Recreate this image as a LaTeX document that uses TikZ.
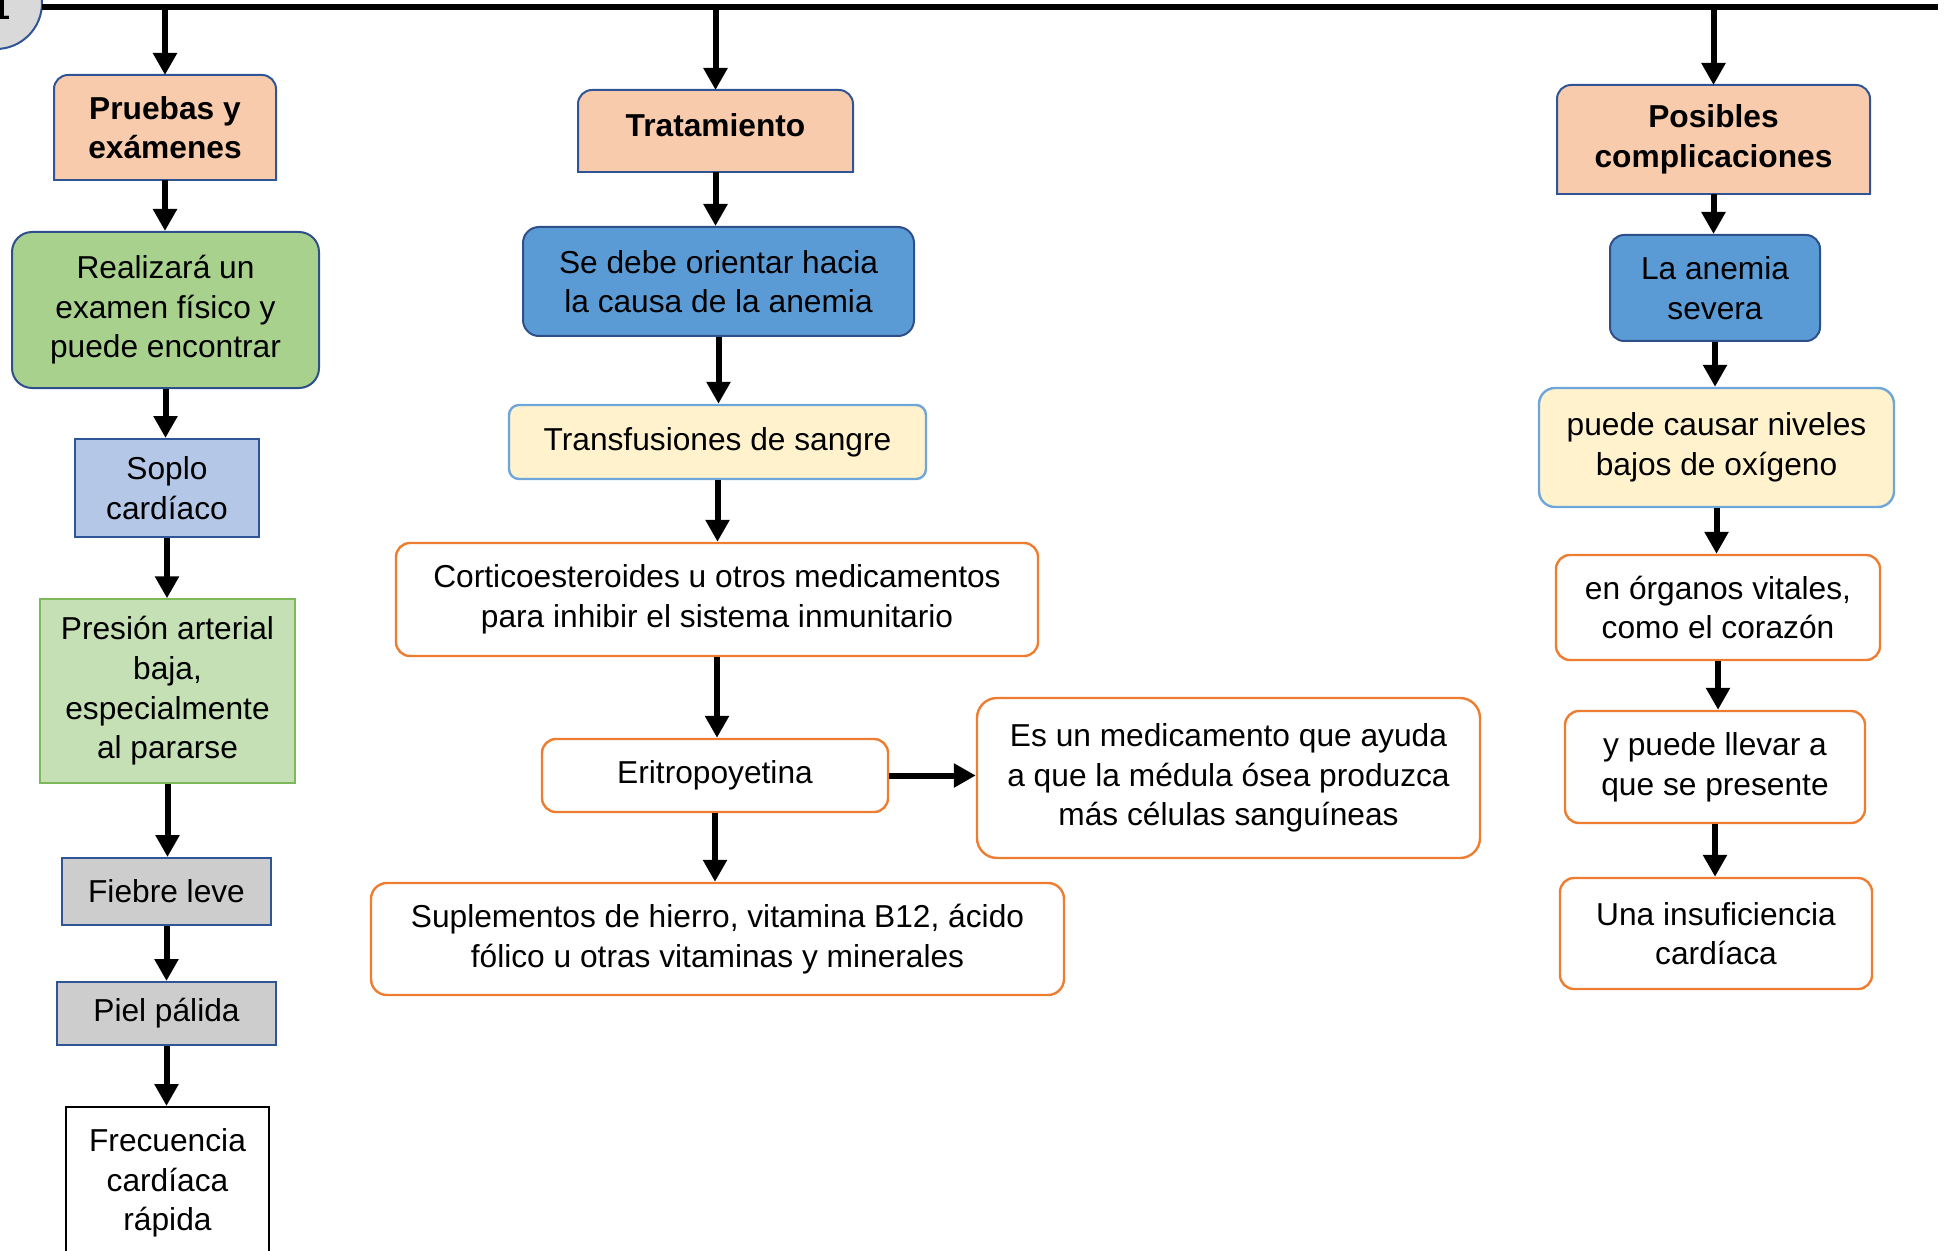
\documentclass[tikz,border=0pt]{standalone}
\usepackage{fontspec}
\setmainfont{Liberation Sans}
\usetikzlibrary{arrows.meta,backgrounds}
\definecolor{peach}{HTML}{F8CBAD}
\definecolor{hdrborder}{HTML}{2F5597}
\definecolor{greenfill}{HTML}{A9D18E}
\definecolor{lightblue}{HTML}{B4C7E7}
\definecolor{lightgreen}{HTML}{C5E0B4}
\definecolor{greenborder}{HTML}{7DB95A}
\definecolor{grayfill}{HTML}{CDCDCD}
\definecolor{bluefill}{HTML}{5B9BD5}
\definecolor{blueborder}{HTML}{2E4F8A}
\definecolor{yellowfill}{HTML}{FFF2CC}
\definecolor{skyborder}{HTML}{6FA6DA}
\definecolor{orangeb}{HTML}{ED7D31}
\definecolor{circlefill}{HTML}{D9D9D9}
\newcommand\hdrshape[1]{%
\begin{scope}[on background layer]
\path[fill=peach, draw=hdrborder, line width=1pt, rounded corners=7pt] (#1.south east) -- (#1.north east) -- (#1.north west) -- (#1.south west);
\draw[hdrborder, line width=1pt, line cap=rect] (#1.south west) -- (#1.south east);
\end{scope}}
\begin{document}
\begin{tikzpicture}[x=0.5pt,y=-0.5pt,
  every node/.style={font=\fontsize{15.85}{19.8}\selectfont, align=center, inner sep=0pt, line width=1pt},
  hdr/.style={font=\fontsize{15.85}{19.8}\selectfont\bfseries},
  sqbox/.style={draw=hdrborder},
  rbox/.style={draw=blueborder, rounded corners=#1},
  obox/.style={draw=orangeb, fill=white, line width=1.2pt, rounded corners=#1},
  ybox/.style={draw=skyborder, fill=yellowfill, line width=1.2pt, rounded corners=#1},
  arr/.style={line width=3pt, -{Triangle[width=11.5pt,length=11pt]}}
]
\useasboundingbox (0,0) rectangle (1952,1251);

% top bar and circle
\draw[hdrborder, fill=circlefill, line width=1pt] (-4,3) circle[radius=23pt];
\node[font=\fontsize{15.85}{19.8}\selectfont\bfseries, anchor=base east] (one) at (11,20) {1};
\coordinate (tl) at (42,7);
\coordinate (tr) at (1938,7);
\draw[line width=3pt] (tl) -- (tr);

% column 1
\node[hdr, minimum width=110pt, minimum height=51.5pt] (pru) at (165,127.5) {Pruebas y\\exámenes};
\hdrshape{pru}
\node[rbox=10pt, fill=greenfill, minimum width=153.5pt, minimum height=78pt] (rea) at (165.5,310) {Realizará un\\examen físico y\\puede encontrar};
\node[sqbox, fill=lightblue, minimum width=92pt, minimum height=49pt] (sop) at (167,488) {Soplo\\cardíaco};
\node[draw=greenborder, line width=0.7pt, fill=lightgreen, minimum width=127.5pt, minimum height=92pt] (pre) at (167.5,691) {Presión arterial\\baja,\\especialmente\\al pararse};
\node[sqbox, fill=grayfill, minimum width=104.5pt, minimum height=33.5pt] (fie) at (166.5,891.5) {Fiebre leve};
\node[sqbox, fill=grayfill, minimum width=109.5pt, minimum height=31.5pt] (pie) at (166.5,1013.5) {Piel pálida};
\node[draw=black, fill=white, minimum width=101.5pt, minimum height=76pt] (fre) at (167.5,1183) {Frecuencia\\cardíaca\\rápida};

% column 2
\node[hdr, minimum width=136.5pt, minimum height=40pt, text depth=6pt] (tra) at (715.5,131) {Tratamiento};
\hdrshape{tra}
\node[rbox=8pt, fill=bluefill, minimum width=195.5pt, minimum height=54.5pt] (sed) at (718.5,281.5) {Se debe orientar hacia\\la causa de la anemia};
\node[ybox=5pt, minimum width=208.5pt, minimum height=37pt] (trf) at (717.5,442) {Transfusiones de sangre};
\node[obox=7pt, minimum width=321pt, minimum height=56.5pt] (cor) at (717,599.5) {Corticoesteroides u otros medicamentos\\para inhibir el sistema inmunitario};
\node[obox=7pt, minimum width=173pt, minimum height=36.5pt] (eri) at (715,775.5) {Eritropoyetina};
\node[obox=10pt, minimum width=251.5pt, minimum height=80pt] (esm) at (1228.5,778) {Es un medicamento que ayuda\\a que la médula ósea produzca\\más células sanguíneas};
\node[obox=8pt, minimum width=346.5pt, minimum height=56pt] (sup) at (717.5,939) {Suplementos de hierro, vitamina B12, ácido\\fólico u otras vitaminas y minerales};

% column 3
\node[hdr, minimum width=155.5pt, minimum height=53.5pt] (pos) at (1713.5,139.5) {Posibles\\complicaciones};
\hdrshape{pos}
\node[rbox=7pt, fill=bluefill, minimum width=105pt, minimum height=53pt] (lan) at (1715,288) {La anemia\\severa};
\node[ybox=8pt, minimum width=177.5pt, minimum height=59.5pt] (pue) at (1716.5,447.5) {puede causar niveles\\bajos de oxígeno};
\node[obox=7pt, minimum width=162pt, minimum height=52.5pt] (org) at (1718,607.5) {en órganos vitales,\\como el corazón};
\node[obox=7pt, minimum width=150pt, minimum height=56pt] (ypu) at (1715,767) {y puede llevar a\\que se presente};
\node[obox=7pt, minimum width=156pt, minimum height=55.5pt] (una) at (1716,933.5) {Una insuficiencia\\cardíaca};

% arrows from top bar
\draw[arr] (pru.north |- tl) -- (pru.north);
\draw[arr] (tra.north |- tl) -- (tra.north);
\draw[arr] (pos.north |- tl) -- (pos.north);

% column 1 arrows
\draw[arr] (pru.south) -- (pru.south |- rea.north);
\draw[arr] (rea.south) -- (rea.south |- sop.north);
\draw[arr] (sop.south) -- (sop.south |- pre.north);
\draw[arr] (pre.south) -- (pre.south |- fie.north);
\draw[arr] (fie.south) -- (fie.south |- pie.north);
\draw[arr] (pie.south) -- (pie.south |- fre.north);

% column 2 arrows
\draw[arr] (tra.south) -- (tra.south |- sed.north);
\draw[arr] (sed.south) -- (sed.south |- trf.north);
\draw[arr] (trf.south) -- (trf.south |- cor.north);
\draw[arr] (cor.south) -- (cor.south |- eri.north);
\draw[arr] (eri.south) -- (eri.south |- sup.north);
\draw[arr] (eri.east) -- (eri.east -| esm.west);

% column 3 arrows
\draw[arr] (pos.south) -- (pos.south |- lan.north);
\draw[arr] (lan.south) -- (lan.south |- pue.north);
\draw[arr] (pue.south) -- (pue.south |- org.north);
\draw[arr] (org.south) -- (org.south |- ypu.north);
\draw[arr] (ypu.south) -- (ypu.south |- una.north);
\end{tikzpicture}
\end{document}
